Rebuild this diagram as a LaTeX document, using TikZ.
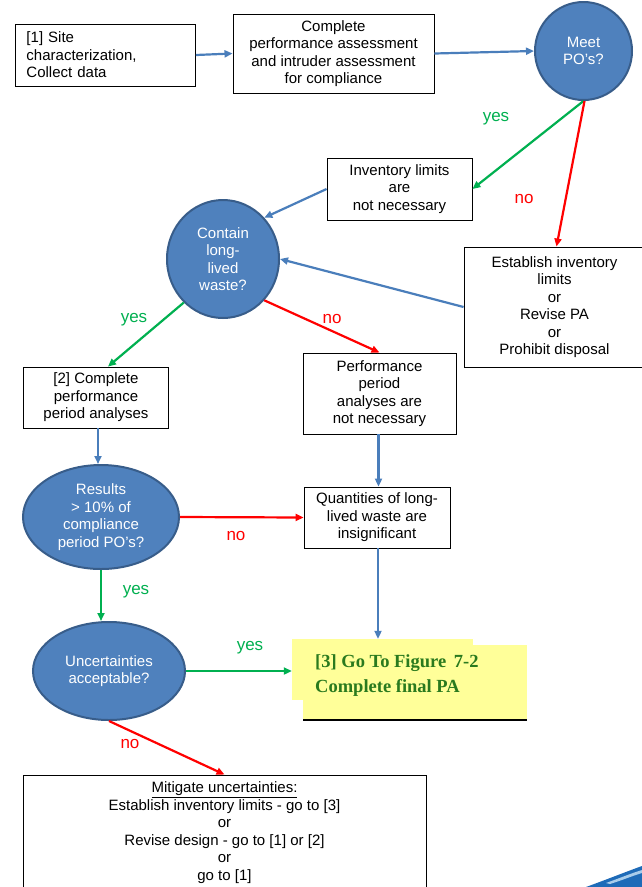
\documentclass[tikz,border=0pt]{standalone}
\usepackage{fontspec}
\setmainfont{Liberation Sans}
\newfontfamily\serifface{Liberation Serif}
\usetikzlibrary{shapes.geometric,arrows.meta}

\definecolor{ovalfill}{HTML}{4F81BD}
\definecolor{ovaledge}{HTML}{385D8A}
\definecolor{lineblue}{HTML}{4A7EBB}
\definecolor{okgreen}{HTML}{00B050}
\definecolor{nored}{HTML}{FF0000}
\definecolor{highlight}{HTML}{FFFF99}
\definecolor{gotogreen}{HTML}{2A7A1E}
\definecolor{swooshdark}{HTML}{1E6BB8}
\definecolor{swooshlight}{HTML}{A9CDEB}

\begin{document}
\begin{tikzpicture}[x=1pt,y=-1pt,
  box/.style={draw=black,line width=0.9pt,inner sep=0pt,align=center,
    font=\fontsize{15}{17.5}\selectfont},
  oval/.style={ellipse,draw=ovaledge,fill=ovalfill,line width=2pt,inner sep=0pt,
    text=white,align=center,font=\fontsize{15}{17.5}\selectfont},
  flow/.style={line width=2.2pt,-{Triangle[length=8pt,width=7pt]}},
  blueflow/.style={flow,draw=lineblue,fill=lineblue},
  greenflow/.style={flow,draw=okgreen,fill=okgreen},
  redflow/.style={flow,draw=nored,fill=nored},
  lbl/.style={inner sep=0pt,font=\fontsize{17}{20}\selectfont},
  yeslbl/.style={lbl,text=okgreen},
  nolbl/.style={lbl,text=nored}
]
\useasboundingbox (0,0) rectangle (642,887);
\clip (0,0) rectangle (642,887);
\fill[white] (0,0) rectangle (642,887);

% process boxes
\node[box,align=left,text width=158pt,inner xsep=11pt,minimum height=62pt]
  (site) at (105.5,55) {[1] Site\\characterization,\\Collect data};
\node[box,minimum width=201pt,minimum height=79pt] (assess) at (333.5,53.5)
  {Complete\\performance assessment\\and intruder assessment\\for compliance};
\node[box,minimum width=145pt,minimum height=62pt] (inv) at (399.5,189)
  {Inventory limits\\are\\not necessary};
\node[box,minimum width=181pt,minimum height=120pt] (est) at (554.5,307)
  {Establish inventory\\limits\\or\\Revise PA\\or\\Prohibit disposal};
\node[box,minimum width=145pt,minimum height=61pt] (cpa) at (96,397.5)
  {[2] Complete\\performance\\period analyses};
\node[box,minimum width=153pt,minimum height=81pt] (perf) at (379.5,393.5)
  {Performance\\period\\analyses are\\not necessary};
\node[box,minimum width=146pt,minimum height=61pt] (quant) at (377,517.5)
  {Quantities of long-\\lived waste are\\insignificant};
\node[box,minimum width=403pt,minimum height=115pt] (mit) at (224.5,832.5)
  {\underline{Mitigate uncertainties:}\\Establish inventory limits - go to [3]\\or\\
   Revise design - go to [1] or [2]\\or\\go to [1]};

% decisions
\node[oval,minimum width=97pt,minimum height=98pt] (meet) at (583.5,51) {Meet\\PO’s?};
\node[oval,minimum width=112pt,minimum height=118pt] (contain) at (223,259)
  {Contain\\long-\\lived\\waste?};
\node[oval,minimum width=156pt,minimum height=104pt] (results) at (101,517)
  {Results\\> 10\% of\\compliance\\period PO’s?};
\node[oval,minimum width=152pt,minimum height=98pt] (unc) at (109,671)
  {Uncertainties\\acceptable?};

% highlighted target
\fill[highlight] (303,645) rectangle (527,720);
\node[fill=highlight,inner sep=0pt,minimum width=181pt,minimum height=61pt] (hl) at (382.5,669.5) {};
\draw[black,line width=1.6pt] (303,720) -- (527,720);
\node[anchor=west,inner sep=0pt,align=left,text=gotogreen,
  font=\serifface\bfseries\fontsize{18.5}{25}\selectfont] (goto) at (315,676)
  {[3] Go To Figure\, 7-2\\Complete final PA};

% connectors
\draw[blueflow] (site.east) -- (assess.west);
\draw[blueflow] (assess.east) -- (meet.west);
\draw[greenflow] (meet.south) -- (inv.east);
\draw[redflow] ([xshift=1pt]meet.south) -- ([xshift=2pt]est.north);
\draw[blueflow] (inv.west) -- (contain.45);
\draw[blueflow] (est.west) -- (contain.east);
\draw[greenflow] (contain.-132) -- ([xshift=12pt]cpa.north);
\draw[redflow] (contain.-45) -- (perf.north);
\draw[blueflow] ([xshift=2pt]cpa.south) -- ([xshift=2pt]cpa.south |- results.north);
\draw[blueflow] ([xshift=-1pt]perf.south) -- ([xshift=-1pt]perf.south |- quant.north);
\draw[redflow] (results.east) -- (quant.west);
\draw[blueflow] ([xshift=1pt]quant.south) -- ([xshift=1pt]quant.south |- hl.north);
\draw[greenflow] (results.south) -- (results.south |- unc.north);
\draw[greenflow] (unc.east) -- (unc.east -| hl.west);
\draw[redflow] (unc.south) -- (mit.north);

% branch labels
\node[yeslbl] (y1) at (496,119) {yes};
\node[nolbl]  (n1) at (524,199) {no};
\node[yeslbl] (y2) at (134,320) {yes};
\node[nolbl]  (n2) at (332,319) {no};
\node[nolbl]  (n3) at (236,536) {no};
\node[yeslbl] (y3) at (136,592) {yes};
\node[yeslbl] (y4) at (250,648) {yes};
\node[nolbl]  (n4) at (130,744) {no};

% corner swoosh
\fill[swooshdark] (586,887) .. controls (608,879) and (628,871) .. (642,866) -- (642,887) -- cycle;
\fill[swooshlight] (606,883) .. controls (620,878) and (632,873) .. (642,870)
  -- (642,873) .. controls (632,876) and (620,881) .. (610,884) -- cycle;
\end{tikzpicture}
\end{document}
